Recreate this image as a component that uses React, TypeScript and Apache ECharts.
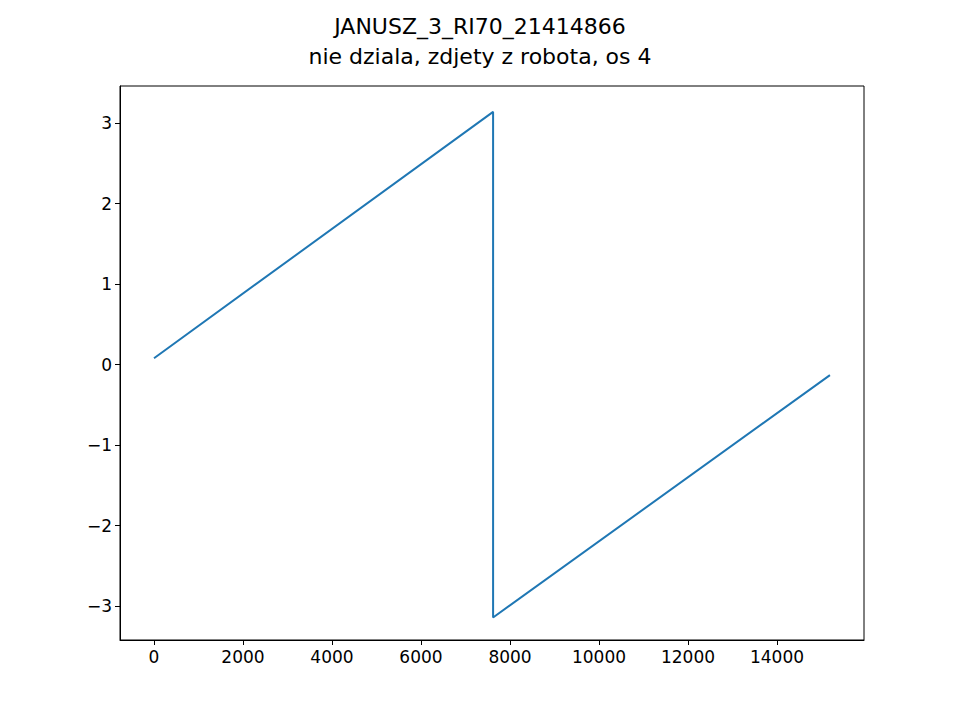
import React, { useEffect, useRef } from "react";
import * as echarts from "echarts";

const titleLine1 = "JANUSZ_3_RI70_21414866";
const titleLine2 = "nie dziala, zdjety z robota, os 4";
const xData = [0, 7620, 7620, 15190];
const yData = [0.08, 3.14, -3.14, -0.13];
const xTicks = [0, 2000, 4000, 6000, 8000, 10000, 12000, 14000];
const yTicks = [-3, -2, -1, 0, 1, 2, 3];

const fmt = (v: number) => (v < 0 ? "\u2212" + Math.abs(v) : String(v));

export default function App() {
  const ref = useRef<HTMLDivElement>(null);
  useEffect(() => {
    const chart = echarts.init(ref.current!, null, { renderer: "svg" });
    const font = "DejaVu Sans";
    chart.setOption({
      animation: false,
      title: {
        text: titleLine1 + "\n" + titleLine2,
        left: "center",
        top: 6,
        textStyle: { fontFamily: font, fontSize: 22, fontWeight: "normal", color: "#000", lineHeight: 30 },
      },
      grid: { left: 120, right: 96, top: 86, bottom: 80, show: true, borderColor: "#000", borderWidth: 1, backgroundColor: "transparent" },
      xAxis: {
        type: "value",
        min: -764,
        max: 15955,
        splitLine: { show: false },
        axisLine: { show: true, onZero: false, lineStyle: { color: "#000" } },
        axisTick: { show: true, length: 5, inside: false, customValues: xTicks, lineStyle: { color: "#000" } },
        axisLabel: { customValues: xTicks, formatter: (v: number) => fmt(v), fontFamily: font, fontSize: 17, color: "#000", margin: 8 },
      },
      yAxis: {
        type: "value",
        min: -3.42,
        max: 3.461,
        splitLine: { show: false },
        axisLine: { show: true, onZero: false, lineStyle: { color: "#000" } },
        axisTick: { show: true, length: 5, inside: false, customValues: yTicks, lineStyle: { color: "#000" } },
        axisLabel: { customValues: yTicks, formatter: (v: number) => fmt(v), fontFamily: font, fontSize: 17, color: "#000", margin: 8 },
      },
      series: [
        {
          type: "line",
          data: xData.map((x, i) => [x, yData[i]]),
          showSymbol: false,
          lineStyle: { color: "#1f77b4", width: 2 },
        },
      ],
    });
    return () => chart.dispose();
  }, []);
  return <div ref={ref} style={{ width: 960, height: 720, position: "absolute", left: 0, top: 0, background: "#fff" }} />;
}
